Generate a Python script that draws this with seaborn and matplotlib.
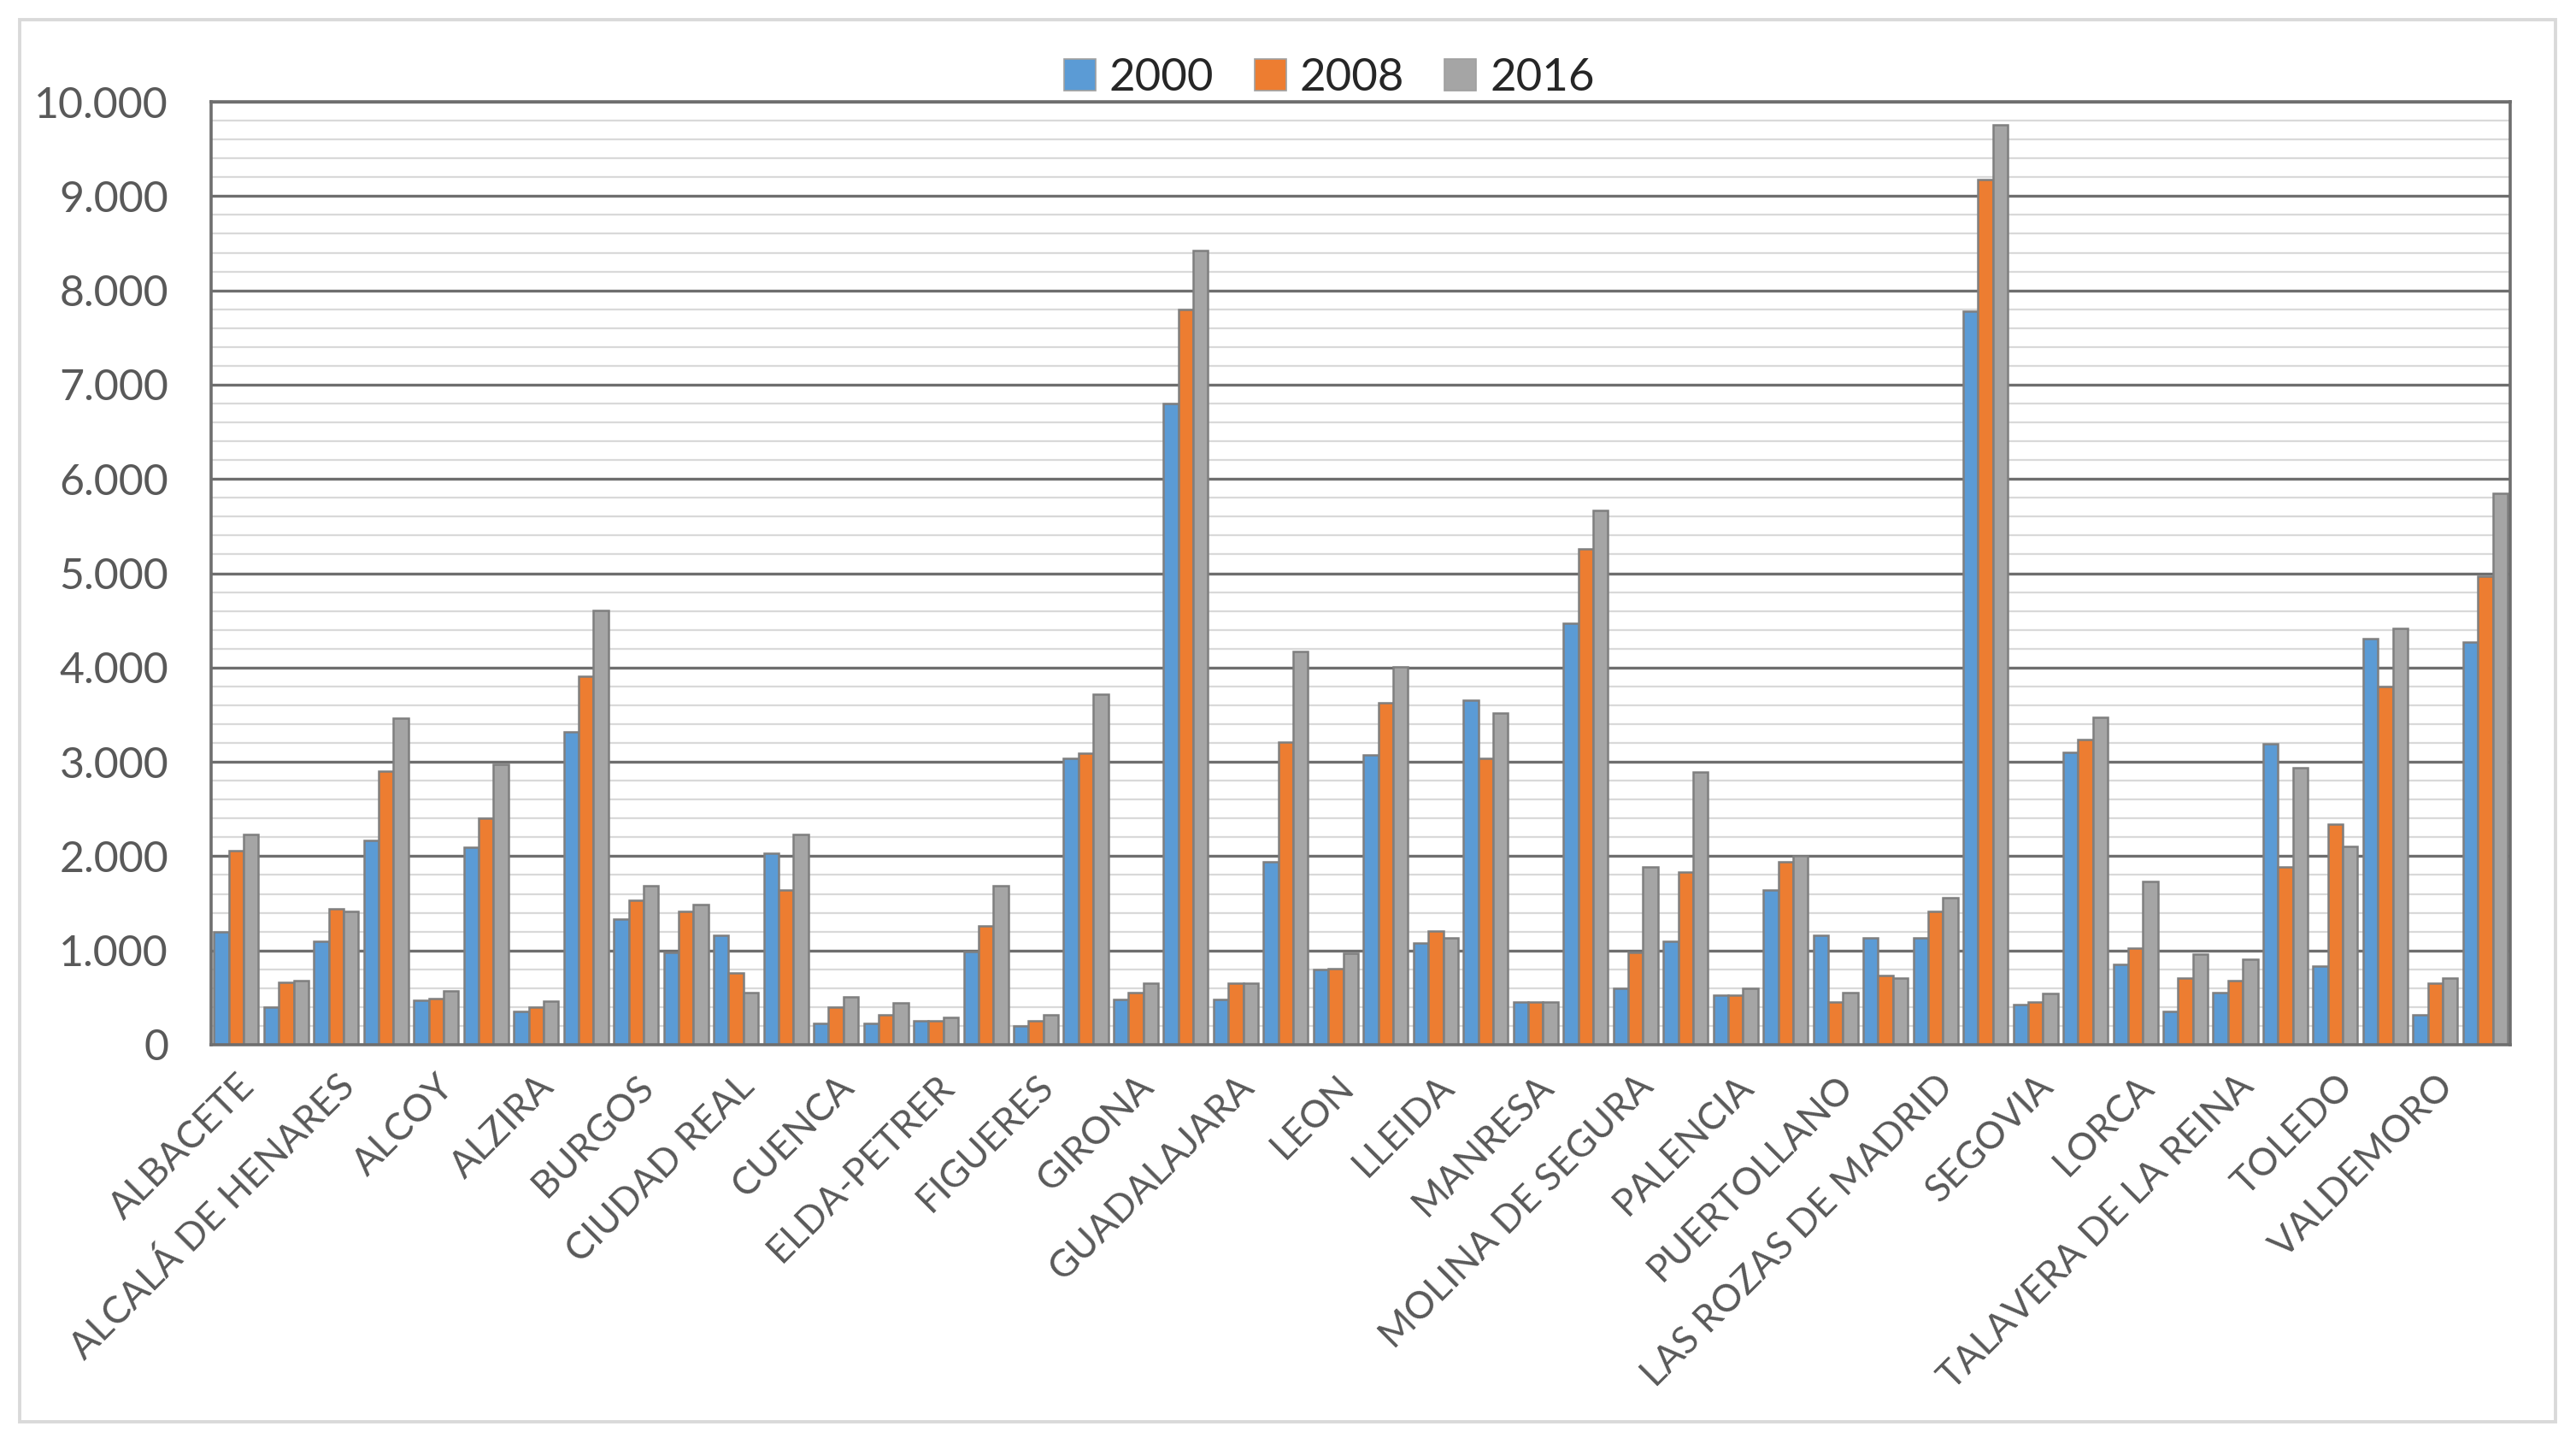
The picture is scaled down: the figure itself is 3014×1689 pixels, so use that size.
import pandas as pd
import seaborn as sns
import matplotlib.pyplot as plt
from matplotlib.ticker import MultipleLocator, FuncFormatter
from matplotlib.patches import Rectangle

# only every other city name is printed under the axis in the original chart
ciudades_visibles = ['ALBACETE', 'ALCALÁ DE HENARES', 'ALCOY', 'ALZIRA', 'BURGOS',
                     'CIUDAD REAL', 'CUENCA', 'ELDA-PETRER', 'FIGUERES', 'GIRONA',
                     'GUADALAJARA', 'LEON', 'LLEIDA', 'MANRESA', 'MOLINA DE SEGURA',
                     'PALENCIA', 'PUERTOLLANO', 'LAS ROZAS DE MADRID', 'SEGOVIA', 'LORCA',
                     'TALAVERA DE LA REINA', 'TOLEDO', 'VALDEMORO']
n_grupos = 46
anios = ['2000', '2008', '2016']

v2000 = [1200, 400, 1100, 2170, 470, 2090, 350, 3320, 1330, 980, 1160, 2030, 230, 230,
         250, 990, 200, 3040, 480, 6800, 480, 1940, 800, 3070, 1080, 3650, 450, 4470,
         600, 1100, 530, 1640, 1160, 1130, 1130, 7780, 430, 3100, 850, 350, 550, 3190,
         830, 4310, 320, 4270]
v2008 = [2060, 660, 1440, 2900, 490, 2400, 400, 3910, 1530, 1410, 760, 1640, 400, 320,
         250, 1260, 250, 3090, 550, 7800, 650, 3210, 810, 3630, 1210, 3040, 450, 5260,
         980, 1830, 530, 1940, 450, 730, 1410, 9180, 450, 3240, 1020, 710, 680, 1890,
         2340, 3800, 650, 4970]
v2016 = [2230, 680, 1410, 3460, 570, 2970, 460, 4610, 1690, 1490, 550, 2230, 510, 440,
         290, 1690, 320, 3720, 650, 8420, 650, 4170, 970, 4010, 1130, 3520, 450, 5670,
         1890, 2890, 600, 2000, 550, 710, 1560, 9760, 540, 3470, 1730, 960, 910, 2940,
         2100, 4420, 710, 5850]

colores = ['#5B9BD5', '#ED7D31', '#A5A5A5']

rows = []
for anio, vals in zip(anios, [v2000, v2008, v2016]):
    for i, v in enumerate(vals):
        rows.append({'pos': i, 'anio': anio, 'valor': v})
df = pd.DataFrame(rows)

sns.set_theme(style='white')
plt.rcParams['font.family'] = ['Lato', 'DejaVu Sans']

fig = plt.figure(figsize=(15.07, 8.445), dpi=200)
ax = fig.add_axes([0.082, 0.2765, 0.8925, 0.653])

sns.barplot(data=df, x='pos', y='valor', hue='anio', palette=colores,
            width=0.89, gap=0, edgecolor='#7f7f7f', linewidth=0.9,
            saturation=1, ax=ax, legend=False)

ax.set_xlim(-0.5, n_grupos - 0.5)
ax.set_ylim(0, 10000)
ax.yaxis.set_major_locator(MultipleLocator(1000))
ax.yaxis.set_minor_locator(MultipleLocator(200))
ax.yaxis.set_major_formatter(FuncFormatter(lambda v, p: f'{int(v):,}'.replace(',', '.')))
ax.set_axisbelow(True)
ax.grid(which='minor', axis='y', color='#d9d9d9', linewidth=0.8)
ax.grid(which='major', axis='y', color='#6e6e6e', linewidth=1.2)

ax.set_xticks(range(0, n_grupos - 1, 2))
ax.set_xticklabels(ciudades_visibles, rotation=45, ha='right', rotation_mode='anchor',
                   fontsize=16, color='#595959')
ax.tick_params(axis='x', length=0, pad=10)
ax.tick_params(axis='y', which='both', length=0, pad=18, labelsize=18, labelcolor='#595959')
ax.set_xlabel('')
ax.set_ylabel('')

for s in ax.spines.values():
    s.set_color('#6e6e6e')
    s.set_linewidth(1.3)

handles = [Rectangle((0, 0), 1, 1, facecolor=c, edgecolor='#a0a0a0', linewidth=0.6)
           for c in colores]
fig.legend(handles, anios, loc='center', bbox_to_anchor=(0.516, 0.946), ncol=3,
           frameon=False, fontsize=19, handlelength=0.7, handleheight=0.7,
           handletextpad=0.3, columnspacing=0.9)

# light frame around the whole chart, as in the spreadsheet export
fig.patches.append(Rectangle((23 / 3014, 1 - 1663 / 1689), 2967 / 3014, 1640 / 1689,
                             transform=fig.transFigure, fill=False,
                             edgecolor='#d9d9d9', linewidth=1.4))

fig.savefig('out.png', dpi=200)
